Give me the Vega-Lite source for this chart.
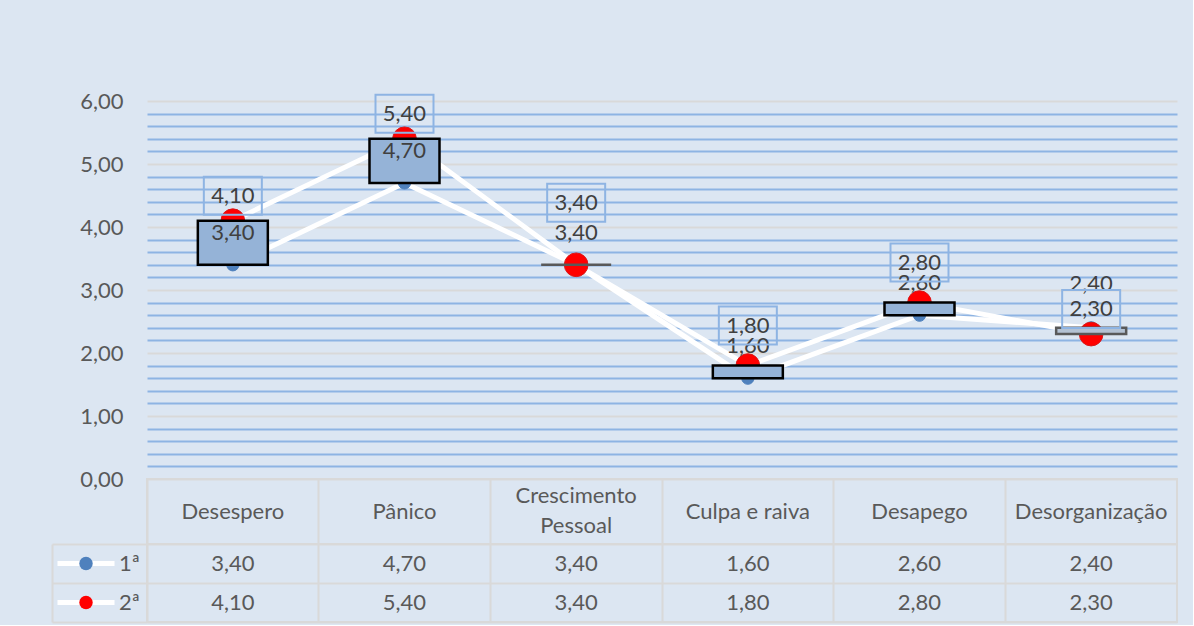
{
  "$schema": "https://vega.github.io/schema/vega-lite/v6.json",
  "background": "#DCE6F2",
  "padding": {"left": 50, "top": 90, "right": 15, "bottom": 1},
  "config": {
    "locale": {"number": {"decimal": ",", "thousands": ".", "grouping": [3], "currency": ["", " €"]}},
    "font": "Lato",
    "text": {"font": "Lato", "fontSize": 22, "color": "#595959", "lineBreak": "\n", "lineHeight": 30}
  },
  "datasets": {
    "d": [
      {"cat": "Desespero", "1ª": 3.4, "2ª": 4.1},
      {"cat": "Pânico", "1ª": 4.7, "2ª": 5.4},
      {"cat": "Crescimento\nPessoal", "1ª": 3.4, "2ª": 3.4},
      {"cat": "Culpa e raiva", "1ª": 1.6, "2ª": 1.8},
      {"cat": "Desapego", "1ª": 2.6, "2ª": 2.8},
      {"cat": "Desorganização", "1ª": 2.4, "2ª": 2.3}
    ]
  },
  "spacing": 0,
  "bounds": "flush",
  "resolve": {"scale": {"stroke": "independent", "fill": "independent"}},
  "vconcat": [
    {
      "width": 1030,
      "height": 378,
      "view": {"stroke": null},
      "data": {"name": "d"},
      "encoding": {
        "x": {"field": "cat", "type": "nominal", "sort": null, "scale": {"type": "band", "paddingInner": 0, "paddingOuter": 0}, "axis": null}
      },
      "layer": [
        {
          "transform": [{"fold": ["1ª", "2ª"], "as": ["serie", "v"]}],
          "mark": {"type": "line", "strokeWidth": 5},
          "encoding": {
            "y": {
              "field": "v", "type": "quantitative", "title": null,
              "scale": {"domain": [0, 6], "nice": false},
              "axis": {
                "values": [0, 0.2, 0.4, 0.6, 0.8, 1, 1.2, 1.4, 1.6, 1.8, 2, 2.2, 2.4, 2.6, 2.8, 3, 3.2, 3.4, 3.6, 3.8, 4, 4.2, 4.4, 4.6, 4.8, 5, 5.2, 5.4, 5.6, 5.8, 6],
                "tickCount": 40,
                "format": ".2f",
                "labelExpr": "abs(datum.value - round(datum.value)) < 0.001 ? datum.label : ''",
                "labelOverlap": false,
                "labelBound": false,
                "labelFont": "Lato",
                "labelFontSize": 22,
                "labelColor": "#595959",
                "labelPadding": 24,
                "ticks": false,
                "domain": false,
                "grid": true,
                "gridWidth": 2,
                "gridColor": {"condition": {"test": "abs(datum.value - round(datum.value)) < 0.001", "value": "#D9D9D9"}, "value": "#8EB4E3"},
                "title": null
              }
            },
            "stroke": {
              "field": "serie", "type": "nominal",
              "scale": {"range": ["#FFFFFF", "#FFFFFF"]},
              "legend": {
                "orient": "none", "legendX": -92, "legendY": 443, "direction": "vertical", "title": null,
                "symbolType": "stroke", "symbolSize": 3249, "symbolStrokeWidth": 5, "symbolStrokeColor": "#FFFFFF",
                "clipHeight": 39, "rowPadding": 0, "padding": 0,
                "labelFont": "Lato", "labelFontSize": 22, "labelColor": "#595959", "labelOffset": 2
              }
            },
            "order": {"value": null}
          }
        },
        {
          "transform": [{"fold": ["1ª", "2ª"], "as": ["serie", "v"]}],
          "mark": {"type": "point", "filled": true, "opacity": 1},
          "encoding": {
            "y": {"field": "v", "type": "quantitative", "title": null},
            "fill": {
              "field": "serie", "type": "nominal",
              "scale": {"domain": ["1ª", "2ª"], "range": ["#4F81BD", "#FF0000"]},
              "legend": {
                "orient": "none", "legendX": -68, "legendY": 443, "direction": "vertical", "title": null,
                "symbolType": "circle", "symbolSize": 180, "symbolStrokeWidth": 0, "symbolOpacity": 1,
                "clipHeight": 39, "rowPadding": 0, "padding": 0, "labelExpr": "''"
              }
            },
            "size": {"condition": {"test": "datum.serie === '1ª'", "value": 150}, "value": 560},
            "stroke": {"condition": {"test": "datum.serie === '1ª'", "value": "#4F81BD"}, "value": "#D81818"},
            "strokeWidth": {"value": 1}
          }
        },
        {
          "mark": {"type": "bar", "width": 70, "strokeWidth": 2.5},
          "encoding": {
            "y": {"field": "1ª", "type": "quantitative", "title": null},
            "y2": {"field": "2ª"},
            "fill": {"condition": {"test": "datum['2ª'] > datum['1ª']", "value": "#95B3D7"}, "value": "#B4C2D3"},
            "stroke": {"condition": {"test": "datum['2ª'] > datum['1ª']", "value": "#000000"}, "value": "#595959"}
          }
        },
        {
          "mark": {"type": "text", "color": "#404040", "fontSize": 22, "dy": {"expr": "datum['1ª'] > datum['2ª'] ? -44 : -32"}},
          "encoding": {
            "y": {"field": "1ª", "type": "quantitative", "title": null},
            "text": {"field": "1ª", "type": "quantitative", "format": ".2f"}
          }
        },
        {
          "mark": {"type": "point", "shape": "M-1,-0.655H1V0.655H-1Z", "size": 3364, "filled": false, "stroke": "#8EB4E3", "strokeWidth": 2, "opacity": 1,
                   "yOffset": {"expr": "datum['1ª'] == datum['2ª'] ? -62 : (datum['2ª'] > datum['1ª'] && datum['2ª'] - datum['1ª'] < 0.3 ? -40 : -25)"}},
          "encoding": {
            "y": {"field": "2ª", "type": "quantitative", "title": null}
          }
        },
        {
          "mark": {"type": "text", "color": "#404040", "fontSize": 22, "dy": {"expr": "datum['1ª'] == datum['2ª'] ? -62 : (datum['2ª'] > datum['1ª'] && datum['2ª'] - datum['1ª'] < 0.3 ? -40 : -25)"}},
          "encoding": {
            "y": {"field": "2ª", "type": "quantitative", "title": null},
            "text": {"field": "2ª", "type": "quantitative", "format": ".2f"}
          }
        }
      ]
    },
    {
      "width": 1030,
      "height": 65,
      "view": {"stroke": "#D9D9D9", "strokeWidth": 2},
      "data": {"name": "d"},
      "mark": {"type": "text", "fontSize": 22, "color": "#595959", "lineHeight": 30, "dy": {"expr": "indexof(datum.cat, '\\n') >= 0 ? -16 : 0"}},
      "encoding": {
        "x": {
          "field": "cat", "type": "nominal", "sort": null,
          "scale": {"type": "band", "paddingInner": 0, "paddingOuter": 0},
          "axis": {"orient": "top", "bandPosition": 0, "grid": true, "gridColor": "#D9D9D9", "gridWidth": 2, "labels": false, "ticks": false, "domain": false, "title": null}
        },
        "text": {"field": "cat"}
      }
    },
    {
      "width": 1030,
      "height": 78,
      "view": {"stroke": "#D9D9D9", "strokeWidth": 2},
      "data": {"name": "d"},
      "transform": [{"fold": ["1ª", "2ª"], "as": ["serie", "v"]}],
      "mark": {"type": "text", "fontSize": 22, "color": "#595959"},
      "encoding": {
        "x": {
          "field": "cat", "type": "nominal", "sort": null,
          "scale": {"type": "band", "paddingInner": 0, "paddingOuter": 0},
          "axis": {"orient": "bottom", "bandPosition": 0, "grid": true, "gridColor": "#D9D9D9", "gridWidth": 2, "labels": false, "ticks": false, "domain": false, "title": null}
        },
        "y": {
          "field": "serie", "type": "nominal", "sort": null,
          "scale": {"type": "band", "domain": ["1ª", "2ª"], "paddingInner": 0, "paddingOuter": 0},
          "axis": {"orient": "left", "offset": 95, "bandPosition": 1, "tickExtra": true, "ticks": true, "tickSize": -95, "tickColor": "#D9D9D9", "tickWidth": 2,
                   "domain": true, "domainColor": "#D9D9D9", "domainWidth": 2, "labels": false, "grid": true, "gridColor": "#D9D9D9", "gridWidth": 2, "title": null}
        },
        "text": {"field": "v", "type": "quantitative", "format": ".2f"}
      }
    }
  ]
}
